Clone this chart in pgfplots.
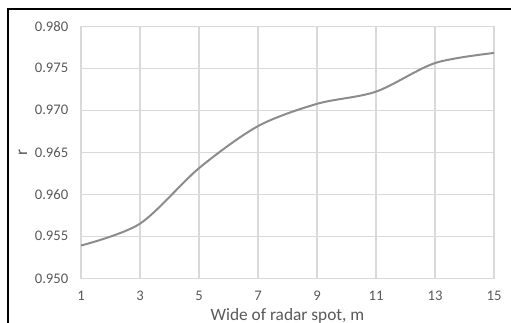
\documentclass[border=0pt]{standalone}
\usepackage{pgfplots}
\pgfplotsset{compat=1.18}
\usepackage{fontspec}
\setmainfont{Carlito}
\definecolor{txt}{HTML}{595959}
\definecolor{gridc}{HTML}{D9D9D9}
\definecolor{linec}{HTML}{8C8C8C}
\begin{document}
\begin{tikzpicture}[x=1pt,y=1pt]
\useasboundingbox (0,0) rectangle (383.25,242.25);
\draw[line width=1.6pt,black] (6,-5) -- (6,235.5) -- (390,235.5);
\begin{axis}[
  at={(60.75pt,33.5pt)}, anchor=south west,
  scale only axis, width=309.75pt, height=189.2pt,
  xmin=1, xmax=15, ymin=0.950, ymax=0.980,
  xtick={1,3,...,15},
  ytick={0.950,0.955,...,0.980},
  yticklabel style={/pgf/number format/fixed,/pgf/number format/fixed zerofill,/pgf/number format/precision=3},
  /pgf/number format/assume math mode=true,
  tick label style={font=\fontsize{11}{13}\selectfont, text=txt},
  major tick length=0pt,
  grid=major, major grid style={gridc, line width=0.8pt},
  axis line style={gridc, line width=0.8pt},
  xlabel={Wide of radar spot, m},
  ylabel={r},
  label style={font=\fontsize{13}{15}\selectfont, text=txt},
  xlabel style={yshift=1pt},
  ylabel style={yshift=-1pt},
  xticklabel style={yshift=-6pt},
  yticklabel style={xshift=-6pt},
]
\addplot[linec, line width=1.5pt, smooth, tension=0.5] coordinates {
(1,0.9539) (3,0.9565) (5,0.9631) (7,0.9681) (9,0.97075) (11,0.9722) (13,0.9756) (15,0.9768)
};
\end{axis}
\end{tikzpicture}
\end{document}
